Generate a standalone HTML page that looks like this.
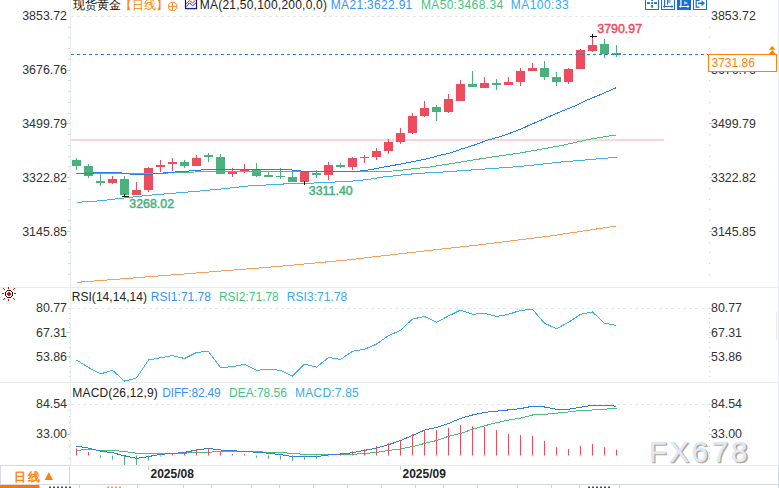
<!DOCTYPE html>
<html><head><meta charset="utf-8"><style>html,body{margin:0;padding:0;background:#fff;overflow:hidden}svg{display:block}</style></head>
<body><svg width="779" height="488" viewBox="0 0 779 488">
<rect x="0" y="0" width="779" height="488" fill="#fff"/>
<line x1="0" y1="287.5" x2="778" y2="287.5" stroke="#e8ecf1" stroke-width="1"/>
<line x1="0" y1="382.5" x2="778" y2="382.5" stroke="#e8ecf1" stroke-width="1"/>
<line x1="0" y1="465.5" x2="778" y2="465.5" stroke="#e8ecf1" stroke-width="1"/>
<line x1="70.5" y1="0" x2="70.5" y2="465" stroke="#e8edf3" stroke-width="1"/>
<line x1="778.5" y1="0" x2="778.5" y2="466" stroke="#e6e9ed" stroke-width="1"/>
<rect x="68.5" y="27" width="1.5" height="1" fill="#c5cdd6"/><rect x="709" y="27" width="1" height="1" fill="#c5cdd6"/>
<rect x="68.5" y="37" width="1.5" height="1" fill="#c5cdd6"/><rect x="709" y="37" width="1" height="1" fill="#c5cdd6"/>
<rect x="68.5" y="48" width="1.5" height="1" fill="#c5cdd6"/><rect x="709" y="48" width="1" height="1" fill="#c5cdd6"/>
<rect x="68.5" y="59" width="1.5" height="1" fill="#c5cdd6"/><rect x="709" y="59" width="1" height="1" fill="#c5cdd6"/>
<rect x="67" y="70" width="3" height="1" fill="#c5cdd6"/><rect x="709" y="70" width="3" height="1" fill="#c5cdd6"/>
<rect x="68.5" y="80" width="1.5" height="1" fill="#c5cdd6"/><rect x="709" y="80" width="1" height="1" fill="#c5cdd6"/>
<rect x="68.5" y="91" width="1.5" height="1" fill="#c5cdd6"/><rect x="709" y="91" width="1" height="1" fill="#c5cdd6"/>
<rect x="68.5" y="102" width="1.5" height="1" fill="#c5cdd6"/><rect x="709" y="102" width="1" height="1" fill="#c5cdd6"/>
<rect x="68.5" y="113" width="1.5" height="1" fill="#c5cdd6"/><rect x="709" y="113" width="1" height="1" fill="#c5cdd6"/>
<rect x="67" y="123" width="3" height="1" fill="#c5cdd6"/><rect x="709" y="123" width="3" height="1" fill="#c5cdd6"/>
<rect x="68.5" y="134" width="1.5" height="1" fill="#c5cdd6"/><rect x="709" y="134" width="1" height="1" fill="#c5cdd6"/>
<rect x="68.5" y="145" width="1.5" height="1" fill="#c5cdd6"/><rect x="709" y="145" width="1" height="1" fill="#c5cdd6"/>
<rect x="68.5" y="156" width="1.5" height="1" fill="#c5cdd6"/><rect x="709" y="156" width="1" height="1" fill="#c5cdd6"/>
<rect x="68.5" y="166" width="1.5" height="1" fill="#c5cdd6"/><rect x="709" y="166" width="1" height="1" fill="#c5cdd6"/>
<rect x="67" y="177" width="3" height="1" fill="#c5cdd6"/><rect x="709" y="177" width="3" height="1" fill="#c5cdd6"/>
<rect x="68.5" y="188" width="1.5" height="1" fill="#c5cdd6"/><rect x="709" y="188" width="1" height="1" fill="#c5cdd6"/>
<rect x="68.5" y="199" width="1.5" height="1" fill="#c5cdd6"/><rect x="709" y="199" width="1" height="1" fill="#c5cdd6"/>
<rect x="68.5" y="209" width="1.5" height="1" fill="#c5cdd6"/><rect x="709" y="209" width="1" height="1" fill="#c5cdd6"/>
<rect x="68.5" y="220" width="1.5" height="1" fill="#c5cdd6"/><rect x="709" y="220" width="1" height="1" fill="#c5cdd6"/>
<rect x="67" y="231" width="3" height="1" fill="#c5cdd6"/><rect x="709" y="231" width="3" height="1" fill="#c5cdd6"/>
<rect x="68.5" y="242" width="1.5" height="1" fill="#c5cdd6"/><rect x="709" y="242" width="1" height="1" fill="#c5cdd6"/>
<rect x="68.5" y="252" width="1.5" height="1" fill="#c5cdd6"/><rect x="709" y="252" width="1" height="1" fill="#c5cdd6"/>
<rect x="68.5" y="263" width="1.5" height="1" fill="#c5cdd6"/><rect x="709" y="263" width="1" height="1" fill="#c5cdd6"/>
<rect x="68.5" y="274" width="1.5" height="1" fill="#c5cdd6"/><rect x="709" y="274" width="1" height="1" fill="#c5cdd6"/>
<line x1="71" y1="16.5" x2="709" y2="16.5" stroke="#e4e7eb" stroke-width="1" stroke-dasharray="3,3"/>
<rect x="71" y="139" width="593" height="2" fill="#fcd6d6"/>
<rect x="76" y="158" width="1" height="12" fill="#4cb07c"/>
<rect x="72" y="160" width="9" height="6" fill="#4cb07c"/>
<rect x="88" y="164" width="1" height="14" fill="#4cb07c"/>
<rect x="84" y="166" width="9" height="10" fill="#4cb07c"/>
<rect x="100" y="173" width="1" height="13" fill="#4cb07c"/>
<rect x="96" y="181" width="9" height="2" fill="#4cb07c"/>
<rect x="112" y="176" width="1" height="8" fill="#eb4d5e"/>
<rect x="108" y="179" width="9" height="4" fill="#eb4d5e"/>
<rect x="124" y="176" width="1" height="19" fill="#4cb07c"/>
<rect x="120" y="179" width="9" height="16" fill="#4cb07c"/>
<rect x="136" y="182" width="1" height="13" fill="#eb4d5e"/>
<rect x="132" y="190" width="9" height="5" fill="#eb4d5e"/>
<rect x="148" y="167" width="1" height="25" fill="#eb4d5e"/>
<rect x="144" y="168" width="9" height="22" fill="#eb4d5e"/>
<rect x="160" y="160" width="1" height="12" fill="#eb4d5e"/>
<rect x="156" y="165" width="9" height="2" fill="#eb4d5e"/>
<rect x="172" y="158" width="1" height="13" fill="#eb4d5e"/>
<rect x="168" y="162" width="9" height="2" fill="#eb4d5e"/>
<rect x="184" y="160" width="1" height="8" fill="#4cb07c"/>
<rect x="180" y="162" width="9" height="4" fill="#4cb07c"/>
<rect x="196" y="155" width="1" height="11" fill="#eb4d5e"/>
<rect x="192" y="158" width="9" height="8" fill="#eb4d5e"/>
<rect x="208" y="153" width="1" height="9" fill="#4cb07c"/>
<rect x="204" y="155" width="9" height="2" fill="#4cb07c"/>
<rect x="220" y="154" width="1" height="20" fill="#4cb07c"/>
<rect x="216" y="157" width="9" height="17" fill="#4cb07c"/>
<rect x="232" y="168" width="1" height="9" fill="#eb4d5e"/>
<rect x="228" y="172" width="9" height="2" fill="#eb4d5e"/>
<rect x="244" y="164" width="1" height="9" fill="#eb4d5e"/>
<rect x="240" y="170" width="9" height="1" fill="#eb4d5e"/>
<rect x="256" y="163" width="1" height="14" fill="#4cb07c"/>
<rect x="252" y="170" width="9" height="6" fill="#4cb07c"/>
<rect x="268" y="172" width="1" height="5" fill="#4cb07c"/>
<rect x="264" y="175" width="9" height="2" fill="#4cb07c"/>
<rect x="280" y="168" width="1" height="11" fill="#4cb07c"/>
<rect x="276" y="176" width="9" height="1" fill="#4cb07c"/>
<rect x="292" y="172" width="1" height="10" fill="#4cb07c"/>
<rect x="288" y="177" width="9" height="5" fill="#4cb07c"/>
<rect x="304" y="172" width="1" height="9" fill="#eb4d5e"/>
<rect x="300" y="172" width="9" height="10" fill="#eb4d5e"/>
<rect x="316" y="170" width="1" height="8" fill="#4cb07c"/>
<rect x="312" y="173" width="9" height="2" fill="#4cb07c"/>
<rect x="328" y="162" width="1" height="18" fill="#eb4d5e"/>
<rect x="324" y="165" width="9" height="10" fill="#eb4d5e"/>
<rect x="340" y="163" width="1" height="5" fill="#4cb07c"/>
<rect x="336" y="165" width="9" height="2" fill="#4cb07c"/>
<rect x="352" y="157" width="1" height="13" fill="#eb4d5e"/>
<rect x="348" y="158" width="9" height="9" fill="#eb4d5e"/>
<rect x="364" y="155" width="1" height="8" fill="#eb4d5e"/>
<rect x="360" y="157" width="9" height="1" fill="#eb4d5e"/>
<rect x="376" y="148" width="1" height="12" fill="#eb4d5e"/>
<rect x="372" y="151" width="9" height="6" fill="#eb4d5e"/>
<rect x="388" y="139" width="1" height="15" fill="#eb4d5e"/>
<rect x="384" y="142" width="9" height="9" fill="#eb4d5e"/>
<rect x="400" y="128" width="1" height="16" fill="#eb4d5e"/>
<rect x="396" y="133" width="9" height="9" fill="#eb4d5e"/>
<rect x="412" y="113" width="1" height="21" fill="#eb4d5e"/>
<rect x="408" y="116" width="9" height="17" fill="#eb4d5e"/>
<rect x="424" y="101" width="1" height="16" fill="#eb4d5e"/>
<rect x="420" y="108" width="9" height="8" fill="#eb4d5e"/>
<rect x="436" y="105" width="1" height="16" fill="#4cb07c"/>
<rect x="432" y="107" width="9" height="5" fill="#4cb07c"/>
<rect x="448" y="94" width="1" height="19" fill="#eb4d5e"/>
<rect x="444" y="99" width="9" height="13" fill="#eb4d5e"/>
<rect x="460" y="80" width="1" height="21" fill="#eb4d5e"/>
<rect x="456" y="84" width="9" height="17" fill="#eb4d5e"/>
<rect x="472" y="71" width="1" height="16" fill="#4cb07c"/>
<rect x="468" y="84" width="9" height="3" fill="#4cb07c"/>
<rect x="484" y="77" width="1" height="11" fill="#eb4d5e"/>
<rect x="480" y="83" width="9" height="5" fill="#eb4d5e"/>
<rect x="496" y="79" width="1" height="11" fill="#4cb07c"/>
<rect x="492" y="83" width="9" height="2" fill="#4cb07c"/>
<rect x="508" y="77" width="1" height="8" fill="#eb4d5e"/>
<rect x="504" y="82" width="9" height="3" fill="#eb4d5e"/>
<rect x="520" y="68" width="1" height="18" fill="#eb4d5e"/>
<rect x="516" y="71" width="9" height="11" fill="#eb4d5e"/>
<rect x="532" y="63" width="1" height="8" fill="#eb4d5e"/>
<rect x="528" y="68" width="9" height="3" fill="#eb4d5e"/>
<rect x="544" y="61" width="1" height="19" fill="#4cb07c"/>
<rect x="540" y="68" width="9" height="9" fill="#4cb07c"/>
<rect x="556" y="72" width="1" height="14" fill="#4cb07c"/>
<rect x="552" y="77" width="9" height="5" fill="#4cb07c"/>
<rect x="568" y="68" width="1" height="16" fill="#eb4d5e"/>
<rect x="564" y="69" width="9" height="13" fill="#eb4d5e"/>
<rect x="580" y="49" width="1" height="20" fill="#eb4d5e"/>
<rect x="576" y="50" width="9" height="19" fill="#eb4d5e"/>
<rect x="592" y="38" width="1" height="14" fill="#eb4d5e"/>
<rect x="588" y="45" width="9" height="6" fill="#eb4d5e"/>
<rect x="604" y="39" width="1" height="19" fill="#4cb07c"/>
<rect x="600" y="44" width="9" height="10" fill="#4cb07c"/>
<rect x="616" y="45" width="1" height="12" fill="#4cb07c"/>
<rect x="612" y="53" width="9" height="2" fill="#4cb07c"/>
<polyline points="76.5,282.4 180.0,274.3 280.0,266.3 350.0,259.7 370.0,257.3 420.0,251.5 480.0,244.8 550.0,236.0 616.5,226.0" fill="none" stroke="#f5a05a" stroke-width="1" shape-rendering="crispEdges"/>
<polyline points="76.5,202.4 100.0,200.8 124.0,198.0 150.0,195.2 176.0,193.0 202.0,190.8 226.0,188.5 250.0,185.8 274.0,184.6 290.0,183.6 310.0,183.2 325.0,182.5 348.0,181.4 360.0,180.4 373.0,178.8 381.5,177.2 393.1,176.0 404.6,174.6 416.2,173.6 427.7,172.8 439.3,172.3 450.8,171.4 460.0,170.8 520.0,166.5 561.0,162.0 616.5,157.3" fill="none" stroke="#3fb0ea" stroke-width="1" shape-rendering="crispEdges"/>
<polyline points="76.5,173.9 94.0,173.6 100.0,173.3 150.0,173.3 165.0,173.2 178.0,172.5 212.0,171.5 292.0,171.4 330.0,171.6 370.0,171.3 393.1,171.0 404.6,169.8 416.2,168.3 427.7,167.5 439.3,165.4 450.8,163.7 460.0,162.2 490.0,157.3 520.0,153.0 561.0,145.6 591.7,138.8 616.5,134.9" fill="none" stroke="#47c07e" stroke-width="1" shape-rendering="crispEdges"/>
<polyline points="76.5,173.3 93.6,173.3 94.0,172.5 118.8,172.5 131.0,174.2 150.0,174.3 172.0,172.2 184.5,171.5 196.5,170.3 208.5,169.5 220.0,169.3 280.0,169.2 288.0,169.6 296.0,170.4 304.5,171.5 322.0,172.0 346.0,171.9 358.0,171.3 370.0,169.8 381.5,167.5 393.1,165.5 404.6,163.2 416.2,160.9 427.7,158.6 439.3,155.5 450.8,152.8 462.3,148.7 474.6,145.0 486.9,140.3 499.1,137.0 511.4,132.7 523.7,127.8 530.0,124.9 541.5,120.0 553.1,114.8 564.6,110.1 576.2,105.5 587.7,99.8 599.3,95.1 616.5,87.6" fill="none" stroke="#1f7ff2" stroke-width="1" shape-rendering="crispEdges"/>
<rect x="124" y="194" width="1" height="3" fill="#111"/><rect x="122" y="196" width="7" height="1" fill="#111"/>
<rect x="304" y="181" width="1" height="4" fill="#111"/>
<rect x="592" y="34" width="1" height="4" fill="#111"/><rect x="590" y="36" width="7" height="1" fill="#111"/>
<line x1="71" y1="54.5" x2="708" y2="54.5" stroke="#1f7ff2" stroke-width="1" stroke-dasharray="3,3"/>
<text x="67" y="20.0" font-family="Liberation Sans, sans-serif" font-size="12.4" fill="#333" text-anchor="end" font-weight="normal" >3853.72</text>
<text x="711" y="20.0" font-family="Liberation Sans, sans-serif" font-size="12.4" fill="#333" text-anchor="start" font-weight="normal" >3853.72</text>
<text x="67" y="74.0" font-family="Liberation Sans, sans-serif" font-size="12.4" fill="#333" text-anchor="end" font-weight="normal" >3676.76</text>
<text x="711" y="74.0" font-family="Liberation Sans, sans-serif" font-size="12.4" fill="#333" text-anchor="start" font-weight="normal" >3676.76</text>
<text x="67" y="128.0" font-family="Liberation Sans, sans-serif" font-size="12.4" fill="#333" text-anchor="end" font-weight="normal" >3499.79</text>
<text x="711" y="128.0" font-family="Liberation Sans, sans-serif" font-size="12.4" fill="#333" text-anchor="start" font-weight="normal" >3499.79</text>
<text x="67" y="182.0" font-family="Liberation Sans, sans-serif" font-size="12.4" fill="#333" text-anchor="end" font-weight="normal" >3322.82</text>
<text x="711" y="182.0" font-family="Liberation Sans, sans-serif" font-size="12.4" fill="#333" text-anchor="start" font-weight="normal" >3322.82</text>
<text x="67" y="236.0" font-family="Liberation Sans, sans-serif" font-size="12.4" fill="#333" text-anchor="end" font-weight="normal" >3145.85</text>
<text x="711" y="236.0" font-family="Liberation Sans, sans-serif" font-size="12.4" fill="#333" text-anchor="start" font-weight="normal" >3145.85</text>
<rect x="708.5" y="54.5" width="68" height="17" fill="#fff" stroke="#ff8200" stroke-width="1"/>
<text x="711.5" y="67" font-family="Liberation Sans, sans-serif" font-size="12" fill="#ff7f0a" text-anchor="start" font-weight="normal" >3731.86</text>
<path d="M772.2,46 L775.7,49.7 L768.7,49.7 Z M772.2,50 L776,54.3 L768.4,54.3 Z" fill="#ff8200"/>
<text x="129.3" y="208.2" font-family="Liberation Sans, sans-serif" font-size="12.4" fill="#46b07f" text-anchor="start" font-weight="normal" stroke="#46b07f" stroke-width="0.45">3268.02</text>
<text x="308.8" y="194.5" font-family="Liberation Sans, sans-serif" font-size="12.4" fill="#46b07f" text-anchor="start" font-weight="normal" stroke="#46b07f" stroke-width="0.45">3311.40</text>
<text x="597.3" y="32.8" font-family="Liberation Sans, sans-serif" font-size="12.4" fill="#ee4a5c" text-anchor="start" font-weight="normal" stroke="#ee4a5c" stroke-width="0.45">3790.97</text>
<text x="72.5" y="8.5" font-family="Liberation Sans, sans-serif" font-size="12" fill="#111" text-anchor="start" font-weight="normal" >现货黄金</text>
<text x="120" y="8.5" font-family="Liberation Sans, sans-serif" font-size="12" fill="#ff7f0a" text-anchor="start" font-weight="normal" >【日线】</text>
<circle cx="172.6" cy="6.4" r="4.1" fill="none" stroke="#ff7f0a" stroke-width="0.9"/><line x1="168.5" y1="6.4" x2="176.7" y2="6.4" stroke="#ff7f0a" stroke-width="0.9"/><line x1="172.6" y1="2.3" x2="172.6" y2="10.5" stroke="#ff7f0a" stroke-width="0.9"/>
<rect x="185.5" y="-2.5" width="11" height="11" fill="#fff" stroke="#12127a" stroke-width="1.2"/><polyline points="186,3.8 189.5,0.5 192.5,2.8 195.5,0.3" fill="none" stroke="#f01818" stroke-width="1"/><polyline points="186,6.8 189.5,2.8 192.5,5.8 195.5,3.3 196.5,3.3" fill="none" stroke="#1a2af0" stroke-width="1"/><rect x="186" y="8.5" width="11.5" height="1" fill="#555" opacity="0.5"/>
<text x="199.80" y="8.5" font-family="Liberation Sans, sans-serif" font-size="12" fill="#222" font-weight="normal" textLength="127.20" lengthAdjust="spacing">MA(21,50,100,200,0,0)</text>
<text x="330.80" y="8.5" font-family="Liberation Sans, sans-serif" font-size="12" fill="#3a92f6" font-weight="normal" textLength="81.50" lengthAdjust="spacing">MA21:3622.91</text>
<text x="420.90" y="8.5" font-family="Liberation Sans, sans-serif" font-size="12" fill="#45c283" font-weight="normal" textLength="82.30" lengthAdjust="spacing">MA50:3468.34</text>
<text x="510.80" y="8.5" font-family="Liberation Sans, sans-serif" font-size="12" fill="#36ace8" font-weight="normal" textLength="57.90" lengthAdjust="spacing">MA100:33</text>
<rect x="645.5" y="-1.5" width="13" height="11" fill="#fff" stroke="#1b6fcc" stroke-width="1"/>
<rect x="647" y="2.2" width="3" height="1.8" fill="#1b6fcc"/><rect x="654" y="2.2" width="3" height="1.8" fill="#1b6fcc"/><rect x="651.2" y="2.2" width="1.8" height="1.8" fill="#1b6fcc"/><rect x="651.2" y="-1" width="1.8" height="2" fill="#1b6fcc"/><rect x="651.2" y="5" width="1.8" height="2.6" fill="#1b6fcc"/>
<rect x="661.5" y="-1.5" width="13" height="11" fill="#fff" stroke="#1b6fcc" stroke-width="1"/>
<rect x="664" y="0" width="1.2" height="7.4" fill="#1b6fcc"/><rect x="663.5" y="6" width="9" height="1" fill="#1b6fcc"/><path d="M673.5,6.5 L671.5,4.8 L671.5,8.2 Z M662.8,6.5 L664.5,5 L664.5,8 Z" fill="#1b6fcc"/><rect x="667" y="0" width="1" height="4.8" fill="#1b6fcc"/><path d="M668,0 L670.7,0 L670.7,3.5 L668,2.5 Z" fill="#1b6fcc" opacity="0.55"/>
<rect x="677" y="-2" width="14" height="12" fill="#1b6fcc"/>
<rect x="680.3" y="0" width="1.2" height="5.8" fill="#fff"/><rect x="679.5" y="6" width="9" height="1" fill="#fff"/><path d="M689.5,6.5 L687.5,4.8 L687.5,8.2 Z M679,6.5 L680.8,5 L680.8,8 Z" fill="#fff"/><path d="M684.2,0.9 L688.1,2.9 L684.2,4.8 Z" fill="#fff" opacity="0.7"/>
<rect x="693.5" y="-1.5" width="13" height="11" fill="#fff" stroke="#1b6fcc" stroke-width="1"/>
<path d="M699.5,0.5 L696.2,0.5 L696.2,7.2 L699.5,7.2" fill="none" stroke="#1b6fcc" stroke-width="1.2"/><rect x="698" y="2.5" width="4" height="1.6" fill="#1b6fcc"/><path d="M701.5,0.3 L705,3.3 L701.5,6.3 Z" fill="#1b6fcc"/>
<g shape-rendering="crispEdges"><rect x="7" y="290" width="4" height="1" fill="#111"/><rect x="6" y="291" width="1" height="1" fill="#111"/><rect x="11" y="291" width="1" height="1" fill="#111"/><rect x="5" y="292" width="1" height="4" fill="#111"/><rect x="12" y="292" width="1" height="4" fill="#111"/><rect x="6" y="296" width="1" height="1" fill="#111"/><rect x="11" y="296" width="1" height="1" fill="#111"/><rect x="7" y="297" width="4" height="1" fill="#111"/><rect x="8" y="292" width="2" height="4" fill="#f00"/><rect x="7" y="293" width="4" height="2" fill="#f00"/><rect x="8" y="287" width="1" height="2" fill="#f00"/><rect x="8" y="299" width="1" height="2" fill="#f00"/><rect x="2" y="293" width="2" height="1" fill="#f00"/><rect x="14" y="293" width="2" height="1" fill="#f00"/><rect x="3" y="288" width="1" height="1" fill="#f00"/><rect x="4" y="289" width="1" height="1" fill="#f00"/><rect x="14" y="288" width="1" height="1" fill="#f00"/><rect x="13" y="289" width="1" height="1" fill="#f00"/><rect x="4" y="298" width="1" height="1" fill="#f00"/><rect x="3" y="299" width="1" height="1" fill="#f00"/><rect x="13" y="298" width="1" height="1" fill="#f00"/><rect x="14" y="299" width="1" height="1" fill="#f00"/></g>
<text x="71.70" y="300.5" font-family="Liberation Sans, sans-serif" font-size="12" fill="#222" font-weight="normal" textLength="75.30" lengthAdjust="spacing">RSI(14,14,14)</text>
<text x="150.80" y="300.5" font-family="Liberation Sans, sans-serif" font-size="12" fill="#3a92f6" font-weight="normal" textLength="60.20" lengthAdjust="spacing">RSI1:71.78</text>
<text x="218.90" y="300.5" font-family="Liberation Sans, sans-serif" font-size="12" fill="#45c283" font-weight="normal" textLength="59.90" lengthAdjust="spacing">RSI2:71.78</text>
<text x="286.80" y="300.5" font-family="Liberation Sans, sans-serif" font-size="12" fill="#36ace8" font-weight="normal" textLength="60.50" lengthAdjust="spacing">RSI3:71.78</text>
<line x1="71" y1="308.5" x2="709" y2="308.5" stroke="#e4e7eb" stroke-width="1" stroke-dasharray="3,3"/>
<text x="67" y="312.3" font-family="Liberation Sans, sans-serif" font-size="12.4" fill="#333" text-anchor="end" font-weight="normal" >80.77</text>
<text x="711" y="312.3" font-family="Liberation Sans, sans-serif" font-size="12.4" fill="#333" text-anchor="start" font-weight="normal" >80.77</text>
<text x="67" y="336.6" font-family="Liberation Sans, sans-serif" font-size="12.4" fill="#333" text-anchor="end" font-weight="normal" >67.31</text>
<text x="711" y="336.6" font-family="Liberation Sans, sans-serif" font-size="12.4" fill="#333" text-anchor="start" font-weight="normal" >67.31</text>
<text x="67" y="360.90000000000003" font-family="Liberation Sans, sans-serif" font-size="12.4" fill="#333" text-anchor="end" font-weight="normal" >53.86</text>
<text x="711" y="360.90000000000003" font-family="Liberation Sans, sans-serif" font-size="12.4" fill="#333" text-anchor="start" font-weight="normal" >53.86</text>
<rect x="69" y="308" width="1" height="1" fill="#c9cfd6"/><rect x="709" y="308" width="1" height="1" fill="#c9cfd6"/>
<rect x="69" y="313" width="1" height="1" fill="#c9cfd6"/><rect x="709" y="313" width="1" height="1" fill="#c9cfd6"/>
<rect x="69" y="318" width="1" height="1" fill="#c9cfd6"/><rect x="709" y="318" width="1" height="1" fill="#c9cfd6"/>
<rect x="69" y="323" width="1" height="1" fill="#c9cfd6"/><rect x="709" y="323" width="1" height="1" fill="#c9cfd6"/>
<rect x="69" y="327" width="1" height="1" fill="#c9cfd6"/><rect x="709" y="327" width="1" height="1" fill="#c9cfd6"/>
<rect x="69" y="332" width="1" height="1" fill="#c9cfd6"/><rect x="709" y="332" width="1" height="1" fill="#c9cfd6"/>
<rect x="69" y="337" width="1" height="1" fill="#c9cfd6"/><rect x="709" y="337" width="1" height="1" fill="#c9cfd6"/>
<rect x="69" y="342" width="1" height="1" fill="#c9cfd6"/><rect x="709" y="342" width="1" height="1" fill="#c9cfd6"/>
<rect x="69" y="347" width="1" height="1" fill="#c9cfd6"/><rect x="709" y="347" width="1" height="1" fill="#c9cfd6"/>
<rect x="69" y="352" width="1" height="1" fill="#c9cfd6"/><rect x="709" y="352" width="1" height="1" fill="#c9cfd6"/>
<rect x="69" y="357" width="1" height="1" fill="#c9cfd6"/><rect x="709" y="357" width="1" height="1" fill="#c9cfd6"/>
<rect x="69" y="361" width="1" height="1" fill="#c9cfd6"/><rect x="709" y="361" width="1" height="1" fill="#c9cfd6"/>
<rect x="69" y="366" width="1" height="1" fill="#c9cfd6"/><rect x="709" y="366" width="1" height="1" fill="#c9cfd6"/>
<rect x="69" y="371" width="1" height="1" fill="#c9cfd6"/><rect x="709" y="371" width="1" height="1" fill="#c9cfd6"/>
<rect x="69" y="376" width="1" height="1" fill="#c9cfd6"/><rect x="709" y="376" width="1" height="1" fill="#c9cfd6"/>
<rect x="66" y="332" width="4" height="1" fill="#c5cdd6"/><rect x="709" y="332" width="3" height="1" fill="#c5cdd6"/>
<rect x="66" y="356" width="4" height="1" fill="#c5cdd6"/><rect x="709" y="356" width="3" height="1" fill="#c5cdd6"/>
<polyline points="76.5,360.0 88.5,367.5 100.5,373.9 112.5,370.3 124.5,381.1 136.5,378.0 148.5,360.0 160.5,357.8 172.5,355.6 184.5,358.5 196.5,352.5 208.5,351.3 220.5,367.6 232.5,366.6 244.5,364.4 256.5,370.3 268.5,369.3 280.5,370.3 292.5,376.2 304.5,364.1 316.5,367.2 328.5,357.5 340.5,359.5 352.5,351.3 364.5,349.3 376.5,344.1 388.5,335.7 400.5,330.3 412.5,319.1 424.5,316.5 436.5,322.3 448.5,315.9 460.5,310.1 472.5,314.3 484.5,313.3 496.5,316.5 508.5,314.3 520.5,310.4 532.5,309.4 544.5,323.2 556.5,328.7 568.5,322.3 580.5,314.3 592.5,312.0 604.5,323.2 616.5,325.5" fill="none" stroke="#3fb0ea" stroke-width="1" shape-rendering="crispEdges"/>
<rect x="776" y="311" width="1" height="29" fill="#e6e9ed"/>
<text x="72.30" y="397" font-family="Liberation Sans, sans-serif" font-size="12" fill="#222" font-weight="normal" textLength="85.50" lengthAdjust="spacing">MACD(26,12,9)</text>
<text x="162.30" y="397" font-family="Liberation Sans, sans-serif" font-size="12" fill="#3a92f6" font-weight="normal" textLength="58.50" lengthAdjust="spacing">DIFF:82.49</text>
<text x="229.10" y="397" font-family="Liberation Sans, sans-serif" font-size="12" fill="#45c283" font-weight="normal" textLength="57.80" lengthAdjust="spacing">DEA:78.56</text>
<text x="295.10" y="397" font-family="Liberation Sans, sans-serif" font-size="12" fill="#36ace8" font-weight="normal" textLength="63.70" lengthAdjust="spacing">MACD:7.85</text>
<line x1="71" y1="404.5" x2="709" y2="404.5" stroke="#e4e7eb" stroke-width="1" stroke-dasharray="3,3"/>
<text x="67" y="407.9" font-family="Liberation Sans, sans-serif" font-size="12.4" fill="#333" text-anchor="end" font-weight="normal" >84.54</text>
<text x="711" y="407.9" font-family="Liberation Sans, sans-serif" font-size="12.4" fill="#333" text-anchor="start" font-weight="normal" >84.54</text>
<text x="67" y="437.9" font-family="Liberation Sans, sans-serif" font-size="12.4" fill="#333" text-anchor="end" font-weight="normal" >33.00</text>
<text x="711" y="437.9" font-family="Liberation Sans, sans-serif" font-size="12.4" fill="#333" text-anchor="start" font-weight="normal" >33.00</text>
<rect x="69" y="404" width="1" height="1" fill="#c9cfd6"/><rect x="709" y="404" width="1" height="1" fill="#c9cfd6"/>
<rect x="69" y="410" width="1" height="1" fill="#c9cfd6"/><rect x="709" y="410" width="1" height="1" fill="#c9cfd6"/>
<rect x="69" y="416" width="1" height="1" fill="#c9cfd6"/><rect x="709" y="416" width="1" height="1" fill="#c9cfd6"/>
<rect x="69" y="422" width="1" height="1" fill="#c9cfd6"/><rect x="709" y="422" width="1" height="1" fill="#c9cfd6"/>
<rect x="69" y="428" width="1" height="1" fill="#c9cfd6"/><rect x="709" y="428" width="1" height="1" fill="#c9cfd6"/>
<rect x="69" y="434" width="1" height="1" fill="#c9cfd6"/><rect x="709" y="434" width="1" height="1" fill="#c9cfd6"/>
<rect x="69" y="440" width="1" height="1" fill="#c9cfd6"/><rect x="709" y="440" width="1" height="1" fill="#c9cfd6"/>
<rect x="69" y="446" width="1" height="1" fill="#c9cfd6"/><rect x="709" y="446" width="1" height="1" fill="#c9cfd6"/>
<rect x="69" y="452" width="1" height="1" fill="#c9cfd6"/><rect x="709" y="452" width="1" height="1" fill="#c9cfd6"/>
<rect x="69" y="458" width="1" height="1" fill="#c9cfd6"/><rect x="709" y="458" width="1" height="1" fill="#c9cfd6"/>
<rect x="67" y="434" width="3" height="1" fill="#c5cdd6"/><rect x="709" y="434" width="3" height="1" fill="#c5cdd6"/>
<polyline points="76.5,450.4 88.5,449.3 100.5,450.4 112.5,450.4 124.5,451.5 136.5,453.2 148.5,453.5 160.5,453.5 172.5,453.5 184.5,453.2 196.5,452.3 208.5,452.4 220.5,451.2 232.5,451.2 244.5,451.2 256.5,451.5 268.5,452.4 280.5,452.4 292.5,453.5 304.5,454.3 316.5,454.3 328.5,454.3 340.5,454.3 352.5,454.3 364.5,453.5 376.5,452.4 388.5,450.4 400.5,448.9 412.5,446.6 424.5,443.5 436.5,440.5 448.5,436.3 460.5,433.5 472.5,429.2 484.5,425.8 496.5,422.7 508.5,420.1 520.5,418.1 532.5,415.0 544.5,414.3 556.5,413.2 568.5,412.0 580.5,410.4 592.5,410.0 604.5,409.2 616.5,408.4" fill="none" stroke="#47c07e" stroke-width="1" shape-rendering="crispEdges"/>
<polyline points="76.5,446.2 88.5,448.1 100.5,451.2 112.5,452.7 124.5,455.8 136.5,458.4 148.5,456.6 160.5,454.3 172.5,453.5 184.5,452.4 196.5,450.0 208.5,448.4 220.5,450.0 232.5,450.9 244.5,451.2 256.5,452.3 268.5,453.2 280.5,454.7 292.5,456.5 304.5,456.6 316.5,456.6 328.5,455.0 340.5,454.0 352.5,452.7 364.5,450.4 376.5,448.1 388.5,444.7 400.5,440.6 412.5,435.5 424.5,430.1 436.5,427.4 448.5,423.5 460.5,418.4 472.5,415.0 484.5,412.4 496.5,411.2 508.5,409.9 520.5,408.6 532.5,406.2 544.5,407.0 556.5,409.3 568.5,409.3 580.5,407.3 592.5,405.3 604.5,405.3 616.5,406.2" fill="none" stroke="#2e7ee6" stroke-width="1" shape-rendering="crispEdges"/>
<rect x="76" y="448.4" width="1" height="7.1" fill="#eb4d5e"/>
<rect x="88" y="452.0" width="1" height="3.5" fill="#eb4d5e"/>
<rect x="100" y="455.5" width="1" height="2.3" fill="#4cb07c"/>
<rect x="112" y="455.5" width="1" height="4.2" fill="#4cb07c"/>
<rect x="124" y="455.5" width="1" height="9.5" fill="#4cb07c"/>
<rect x="136" y="455.5" width="1" height="9.5" fill="#4cb07c"/>
<rect x="148" y="455.5" width="1" height="4.9" fill="#4cb07c"/>
<rect x="160" y="455.5" width="1" height="1.1" fill="#4cb07c"/>
<rect x="172" y="453.5" width="1" height="2.0" fill="#eb4d5e"/>
<rect x="184" y="452.3" width="1" height="3.2" fill="#eb4d5e"/>
<rect x="196" y="449.2" width="1" height="6.3" fill="#eb4d5e"/>
<rect x="208" y="448.1" width="1" height="7.4" fill="#eb4d5e"/>
<rect x="220" y="452.0" width="1" height="3.5" fill="#eb4d5e"/>
<rect x="232" y="454.0" width="1" height="1.5" fill="#eb4d5e"/>
<rect x="244" y="454.0" width="1" height="1.5" fill="#eb4d5e"/>
<rect x="256" y="455.5" width="1" height="2.3" fill="#4cb07c"/>
<rect x="268" y="455.5" width="1" height="3.4" fill="#4cb07c"/>
<rect x="280" y="455.5" width="1" height="4.2" fill="#4cb07c"/>
<rect x="292" y="455.5" width="1" height="5.4" fill="#4cb07c"/>
<rect x="304" y="455.5" width="1" height="4.2" fill="#4cb07c"/>
<rect x="316" y="455.5" width="1" height="3.1" fill="#4cb07c"/>
<rect x="328" y="455.5" width="1" height="1.0" fill="#4cb07c"/>
<rect x="340" y="454.0" width="1" height="1.5" fill="#eb4d5e"/>
<rect x="352" y="451.2" width="1" height="4.3" fill="#eb4d5e"/>
<rect x="364" y="448.9" width="1" height="6.6" fill="#eb4d5e"/>
<rect x="376" y="446.1" width="1" height="9.4" fill="#eb4d5e"/>
<rect x="388" y="443.2" width="1" height="12.3" fill="#eb4d5e"/>
<rect x="400" y="440.3" width="1" height="15.2" fill="#eb4d5e"/>
<rect x="412" y="434.3" width="1" height="21.2" fill="#eb4d5e"/>
<rect x="424" y="430.1" width="1" height="25.4" fill="#eb4d5e"/>
<rect x="436" y="430.1" width="1" height="25.4" fill="#eb4d5e"/>
<rect x="448" y="427.8" width="1" height="27.7" fill="#eb4d5e"/>
<rect x="460" y="425.0" width="1" height="30.5" fill="#eb4d5e"/>
<rect x="472" y="426.3" width="1" height="29.2" fill="#eb4d5e"/>
<rect x="484" y="426.6" width="1" height="28.9" fill="#eb4d5e"/>
<rect x="496" y="430.1" width="1" height="25.4" fill="#eb4d5e"/>
<rect x="508" y="434.0" width="1" height="21.5" fill="#eb4d5e"/>
<rect x="520" y="435.1" width="1" height="20.4" fill="#eb4d5e"/>
<rect x="532" y="435.8" width="1" height="19.7" fill="#eb4d5e"/>
<rect x="544" y="440.9" width="1" height="14.6" fill="#eb4d5e"/>
<rect x="556" y="447.1" width="1" height="8.4" fill="#eb4d5e"/>
<rect x="568" y="448.9" width="1" height="6.6" fill="#eb4d5e"/>
<rect x="580" y="445.8" width="1" height="9.7" fill="#eb4d5e"/>
<rect x="592" y="444.0" width="1" height="11.5" fill="#eb4d5e"/>
<rect x="604" y="447.1" width="1" height="8.4" fill="#eb4d5e"/>
<rect x="616" y="449.7" width="1" height="5.8" fill="#eb4d5e"/>
<g font-family="Liberation Sans, sans-serif" font-size="29.5">
<text x="650.1 670.6 692.9 713.1 732.4" y="463" fill="#b7a089" stroke="#b7a089" stroke-width="0.5">FX678</text>
<text x="648.7 669.2 691.5 711.7 731" y="461.6" fill="#dde9f8" stroke="#dde9f8" stroke-width="0.4">FX678</text>
</g>
<rect x="148" y="466" width="1" height="4" fill="#c5cdd6"/><rect x="400" y="466" width="1" height="4" fill="#c5cdd6"/>
<text x="150.5" y="478" font-family="Liberation Sans, sans-serif" font-size="12" fill="#222" text-anchor="start" font-weight="bold" >2025/08</text>
<text x="402.5" y="478" font-family="Liberation Sans, sans-serif" font-size="12" fill="#222" text-anchor="start" font-weight="bold" >2025/09</text>
<rect x="0.5" y="465.5" width="69" height="19" fill="#fff" stroke="#d5dae0" stroke-width="1"/>
<text x="14" y="480.5" font-family="Liberation Sans, sans-serif" font-size="12" fill="#ff7f0a" stroke="#ff7f0a" stroke-width="0.45" letter-spacing="1.8">日线</text>
<path d="M48.8,472.3 L53,480 L44.6,480 Z" fill="#ff7f0a"/>
<rect x="0" y="484" width="779" height="1" fill="#d3d9e0"/>
<rect x="0" y="485" width="39" height="3" fill="#ff7400"/>
<rect x="39" y="485" width="1" height="3" fill="#cfd5dc"/>
<rect x="79" y="485" width="1" height="3" fill="#cfd5dc"/>
<rect x="137" y="485" width="1" height="3" fill="#cfd5dc"/>
<rect x="183" y="485" width="1" height="3" fill="#cfd5dc"/>
<rect x="211" y="485" width="1" height="3" fill="#cfd5dc"/>
<rect x="251" y="485" width="1" height="3" fill="#cfd5dc"/>
<rect x="279" y="485" width="1" height="3" fill="#cfd5dc"/>
<rect x="313" y="485" width="1" height="3" fill="#cfd5dc"/>
<rect x="347" y="485" width="1" height="3" fill="#cfd5dc"/>
<rect x="381" y="485" width="1" height="3" fill="#cfd5dc"/>
<rect x="415" y="485" width="1" height="3" fill="#cfd5dc"/>
<rect x="443" y="485" width="1" height="3" fill="#cfd5dc"/>
<rect x="477" y="485" width="1" height="3" fill="#cfd5dc"/>
<rect x="517" y="485" width="1" height="3" fill="#cfd5dc"/>
<rect x="551" y="485" width="1" height="3" fill="#cfd5dc"/>
<rect x="579" y="485" width="1" height="3" fill="#cfd5dc"/>
<rect x="619" y="485" width="1" height="3" fill="#cfd5dc"/>
<rect x="778" y="466" width="1" height="22" fill="#d3d9e0"/>
<rect x="49" y="486.5" width="2" height="1.5" fill="#222" opacity="0.8"/>
<rect x="53" y="486.5" width="2" height="1.5" fill="#222" opacity="0.8"/>
<rect x="57" y="486.5" width="2" height="1.5" fill="#222" opacity="0.8"/>
<rect x="61" y="486.5" width="2" height="1.5" fill="#222" opacity="0.8"/>
<rect x="65" y="486.5" width="2" height="1.5" fill="#222" opacity="0.8"/>
<rect x="69" y="486.5" width="2" height="1.5" fill="#222" opacity="0.8"/>
<rect x="107" y="486.5" width="2" height="1.5" fill="#ff7f0a" opacity="0.8"/>
<rect x="111" y="486.5" width="2" height="1.5" fill="#ff7f0a" opacity="0.8"/>
<rect x="115" y="486.5" width="2" height="1.5" fill="#ff7f0a" opacity="0.8"/>
<rect x="119" y="486.5" width="2" height="1.5" fill="#ff7f0a" opacity="0.8"/>
<rect x="588" y="486.5" width="2" height="1.5" fill="#222" opacity="0.8"/>
<rect x="592" y="486.5" width="2" height="1.5" fill="#222" opacity="0.8"/>
<rect x="596" y="486.5" width="2" height="1.5" fill="#222" opacity="0.8"/>
<rect x="600" y="486.5" width="2" height="1.5" fill="#222" opacity="0.8"/>
<rect x="604" y="486.5" width="2" height="1.5" fill="#222" opacity="0.8"/>
<rect x="608" y="486.5" width="2" height="1.5" fill="#222" opacity="0.8"/>
</svg></body></html>
